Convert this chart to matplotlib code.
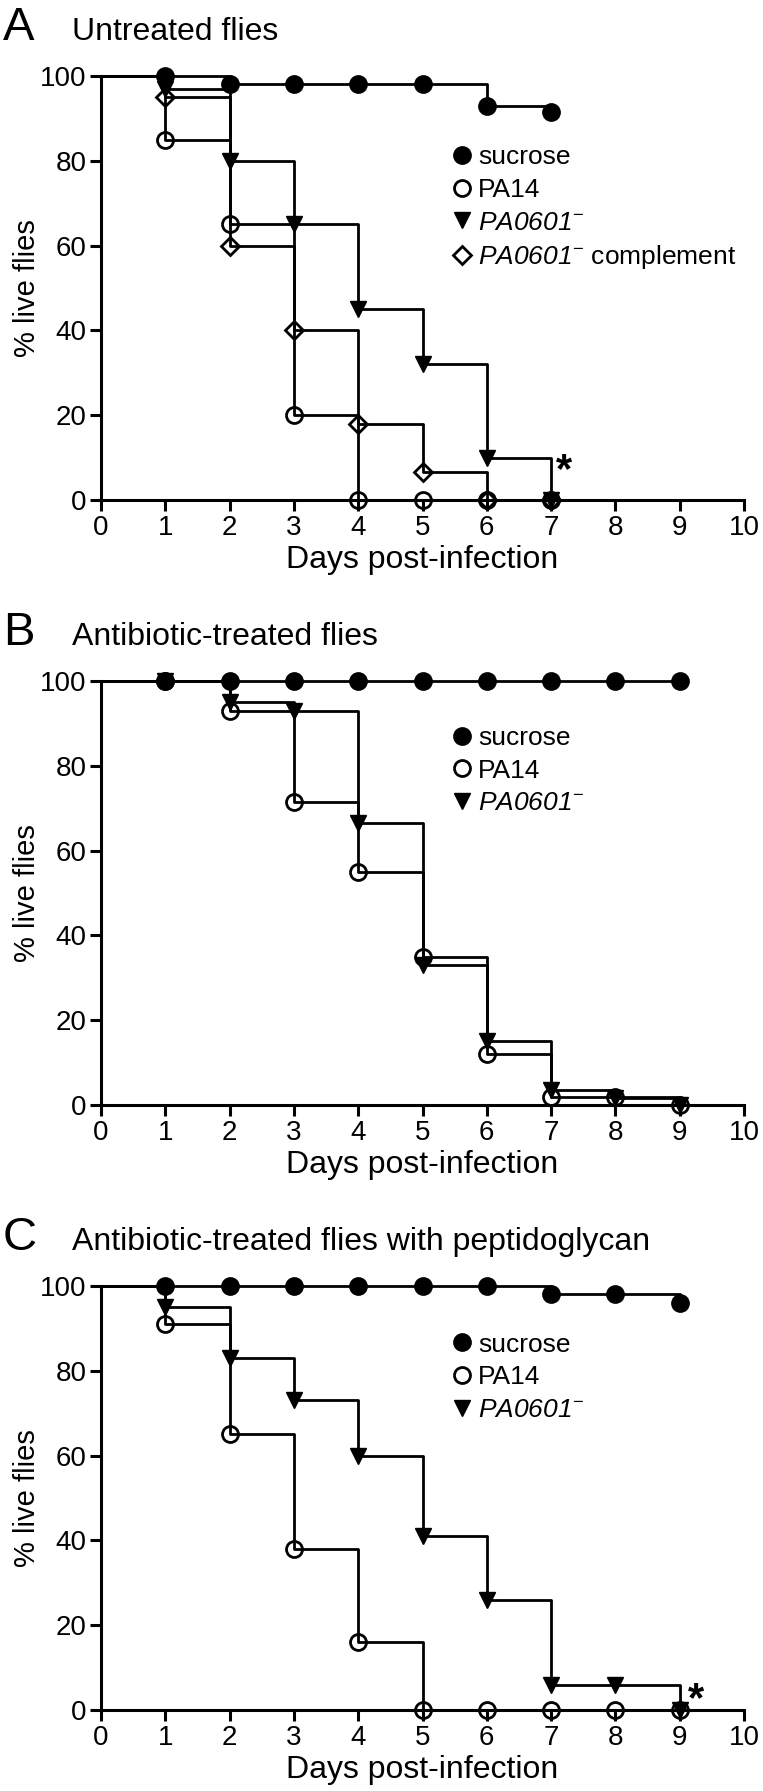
import numpy as np
import matplotlib
matplotlib.use("Agg")
import matplotlib.pyplot as plt

plt.rcParams.update({
    "font.family": ["Liberation Sans", "DejaVu Sans"],
    "mathtext.fontset": "custom",
    "mathtext.rm": "Liberation Sans",
    "mathtext.it": "Liberation Sans:italic",
    "mathtext.sf": "Liberation Sans:italic",
    "font.size": 20,
})

# --- data (% live flies per day) ---
days_a = [0, 1, 2, 3, 4, 5, 6, 7]
sucrose_a = [100, 100, 98, 98, 98, 98, 93, 91.5]
pa14_a = [100, 85, 65, 20, 0, 0, 0, 0]
mutant_a = [100, 97, 80, 65, 45, 32, 10, 0]
complement_a = [100, 95, 60, 40, 18, 6.7, 0, 0]

days_b = [0, 1, 2, 3, 4, 5, 6, 7, 8, 9]
sucrose_b = [100, 100, 100, 100, 100, 100, 100, 100, 100, 100]
pa14_b = [100, 100, 93, 71.5, 55, 35, 12, 2, 2, 0]
mutant_b = [100, 100, 95, 93, 66.5, 33, 15, 3.5, 1.7, 0]

days_c = [0, 1, 2, 3, 4, 5, 6, 7, 8, 9]
sucrose_c = [100, 100, 100, 100, 100, 100, 100, 98, 98, 96]
pa14_c = [100, 91, 65, 38, 16, 0, 0, 0, 0, 0]
mutant_c = [100, 95, 83, 73, 60, 41, 26, 6, 6, 0]

x_ticks = list(range(0, 11))
y_ticks = [0, 20, 40, 60, 80, 100]

MUTANT = r"$\mathsf{PA0601}^{-}$"
STYLES = {
    "sucrose": dict(marker="o", ms=12, mfc="black", mec="black", mew=1.5),
    "PA14": dict(marker="o", ms=11.5, mfc="none", mec="black", mew=2.0),
    MUTANT: dict(marker="v", ms=11, mfc="black", mec="black", mew=1.0),
    MUTANT + " complement": dict(marker="D", ms=9.5, mfc="none", mec="black", mew=2.0),
}

W, H = 763, 1791
fig = plt.figure(figsize=(W / 100, H / 100), dpi=100)

AX_LEFT, AX_RIGHT = 101, 744
AX_HEIGHT = 424
panel_tops = [76, 681, 1286]


def make_axes(top):
    return fig.add_axes([AX_LEFT / W, 1 - (top + AX_HEIGHT) / H,
                         (AX_RIGHT - AX_LEFT) / W, AX_HEIGHT / H])


def survival(ax, days, vals, label):
    ax.step(days, vals, where="post", color="black", lw=2.0, clip_on=False, zorder=2)
    h, = ax.plot(days[1:], vals[1:], ls="none", clip_on=False, zorder=3,
                 label=label, **STYLES[label])
    return h


def style_axes(ax, letter, title, top, legend_y):
    ax.set_xlim(0, 10)
    ax.set_ylim(0, 100)
    ax.set_xticks(x_ticks)
    ax.set_yticks(y_ticks)
    for s in ["top", "right"]:
        ax.spines[s].set_visible(False)
    for s in ["left", "bottom"]:
        ax.spines[s].set_linewidth(2.2)
    ax.tick_params(direction="out", length=8, width=2.2, labelsize=20, pad=2.5)
    ax.set_xlabel("Days post-infection", fontsize=23)
    ax.set_ylabel("% live flies", fontsize=21)
    ax.xaxis.set_label_coords(0.5, -0.107)
    ax.yaxis.set_label_coords(-0.094, 0.5)
    ax.legend(loc="upper left", bbox_to_anchor=(0.545, legend_y), frameon=False,
              fontsize=19, handlelength=0.8, handletextpad=0.2, labelspacing=0.33,
              borderpad=0, borderaxespad=0)
    base = 1 - (top - 36) / H
    fig.text(3 / W, base, letter, fontsize=34, va="baseline", ha="left")
    fig.text(72 / W, base, title, fontsize=23, va="baseline", ha="left")


# Panel A
ax = make_axes(panel_tops[0])
survival(ax, days_a, sucrose_a, "sucrose")
survival(ax, days_a, pa14_a, "PA14")
survival(ax, days_a, mutant_a, MUTANT)
survival(ax, days_a, complement_a, MUTANT + " complement")
ax.text(7.2, 6.8, "*", fontsize=30, fontweight="bold", ha="center", va="center")
style_axes(ax, "A", "Untreated flies", panel_tops[0], 0.837)

# Panel B
ax = make_axes(panel_tops[1])
survival(ax, days_b, sucrose_b, "sucrose")
survival(ax, days_b, pa14_b, "PA14")
survival(ax, days_b, mutant_b, MUTANT)
style_axes(ax, "B", "Antibiotic-treated flies", panel_tops[1], 0.894)

# Panel C
ax = make_axes(panel_tops[2])
survival(ax, days_c, sucrose_c, "sucrose")
survival(ax, days_c, pa14_c, "PA14")
survival(ax, days_c, mutant_c, MUTANT)
ax.text(9.25, 2.3, "*", fontsize=30, fontweight="bold", ha="center", va="center")
style_axes(ax, "C", "Antibiotic-treated flies with peptidoglycan", panel_tops[2], 0.89)

fig.savefig("out.png", dpi=100)
